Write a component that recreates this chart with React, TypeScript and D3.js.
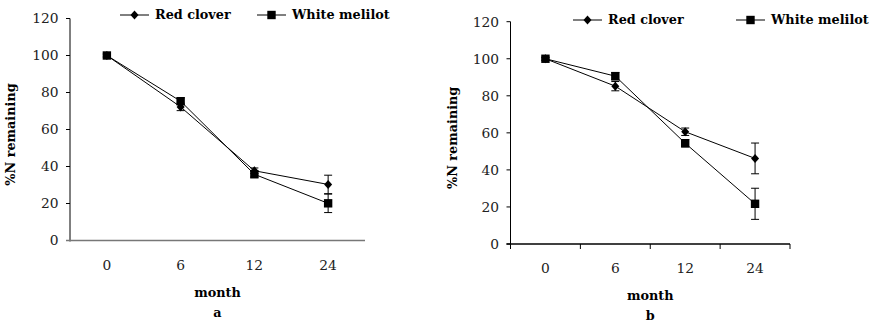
import React from "react";
import * as d3 from "d3";

const months = ["0", "6", "12", "24"];
const yTicks = [0, 20, 40, 60, 80, 100, 120];
const seriesNames = ["Red clover", "White melilot"];

// panel a
const redA = [100, 72.2, 37.7, 30.3];
const redErrA = [0.8, 2, 1.5, 5];
const whiteA = [100, 75.3, 35.8, 20.1];
const whiteErrA = [0.8, 1.8, 1.5, 5];

// panel b
const redB = [100, 85.2, 60.6, 46.2];
const redErrB = [0.8, 2.5, 2, 8.3];
const whiteB = [100, 90.6, 54.4, 21.7];
const whiteErrB = [0.8, 2, 2, 8.4];

const serif = "'DejaVu Serif', 'Liberation Serif', serif";

type PanelProps = {
  x0: number;
  x1: number;
  yTop: number;
  yBottom: number;
  red: number[];
  redErr: number[];
  white: number[];
  whiteErr: number[];
  letter: string;
  showTicks: boolean;
  axisColor: string;
  legend: number[];
  legendY: number;
  labelX: number;
};

function Panel(p: PanelProps) {
  const x = d3.scaleBand().domain(months).range([p.x0, p.x1]);
  const y = d3.scaleLinear().domain([0, 120]).range([p.yBottom, p.yTop]);
  const cx = (m: string) => (x(m) as number) + x.bandwidth() / 2;
  const line = d3
    .line<number>()
    .x((_, i) => cx(months[i]))
    .y((d) => y(d));

  const sym = (kind: string, px: number, py: number, key: string) =>
    kind === "diamond" ? (
      <path key={key} d={`M${px},${py - 4.5}L${px + 4},${py}L${px},${py + 4.5}L${px - 4},${py}Z`} fill="#000" />
    ) : (
      <rect key={key} x={px - 4.2} y={py - 4.2} width={8.4} height={8.4} fill="#000" />
    );

  const series = [
    { vals: p.red, err: p.redErr, kind: "diamond" },
    { vals: p.white, err: p.whiteErr, kind: "square" },
  ];

  return (
    <g>
      {/* y axis */}
      <line x1={p.x0} x2={p.x0} y1={p.yTop} y2={p.yBottom + 1} stroke="#000" strokeWidth={1} />
      {yTicks.map((t) => (
        <g key={t}>
          <line x1={p.x0 - 4} x2={p.x0} y1={y(t)} y2={y(t)} stroke="#000" />
          <text x={p.x0 - 11.5} y={y(t)} dy="0.36em" textAnchor="end" fontFamily={serif} fontSize={13.8} fill="#222">
            {t}
          </text>
        </g>
      ))}
      {/* x axis */}
      <line x1={p.x0 - 4} x2={p.x1} y1={p.yBottom} y2={p.yBottom} stroke={p.axisColor} strokeWidth={1.3} />
      {p.showTicks &&
        d3.range(months.length + 1).map((i) => {
          const tx = p.x0 + i * x.bandwidth();
          return <line key={i} x1={tx} x2={tx} y1={p.yBottom} y2={p.yBottom + 5} stroke="#000" />;
        })}
      {months.map((m) => (
        <text key={m} x={cx(m)} y={p.yBottom + 29} textAnchor="middle" fontFamily={serif} fontSize={13.8} fill="#222">
          {m}
        </text>
      ))}
      <text x={(p.x0 + p.x1) / 2} y={p.yBottom + 56} textAnchor="middle" fontFamily={serif} fontWeight="bold" fontSize={12.8}>
        month
      </text>
      <text x={(p.x0 + p.x1) / 2} y={p.yBottom + 76} textAnchor="middle" fontFamily={serif} fontWeight="bold" fontSize={12.8}>
        {p.letter}
      </text>
      <text
        transform={`translate(${p.labelX},${(p.yTop + p.yBottom) / 2 + 5}) rotate(-90)`}
        textAnchor="middle"
        fontFamily={serif}
        fontWeight="bold"
        fontSize={12.8}
      >
        %N remaining
      </text>

      {/* lines, error bars, markers */}
      {series.map((s, si) => (
        <g key={si}>
          <path d={line(s.vals) as string} fill="none" stroke="#000" strokeWidth={1} />
          {s.vals.map((v, i) => {
            const px = cx(months[i]);
            const hi = y(v + s.err[i]);
            const lo = y(v - s.err[i]);
            return (
              <g key={i}>
                <line x1={px} x2={px} y1={hi} y2={lo} stroke="#000" />
                <line x1={px - 4} x2={px + 4} y1={hi} y2={hi} stroke="#000" />
                <line x1={px - 4} x2={px + 4} y1={lo} y2={lo} stroke="#000" />
                {sym(s.kind, px, y(v), "m" + i)}
              </g>
            );
          })}
        </g>
      ))}

      {/* legend */}
      {seriesNames.map((n, i) => {
        const lx = p.legend[i];
        return (
          <g key={n}>
            <line x1={lx} x2={lx + 29} y1={p.legendY} y2={p.legendY} stroke="#000" />
            {sym(i === 0 ? "diamond" : "square", lx + 14.5, p.legendY, "l" + i)}
            <text x={lx + 35} y={p.legendY} dy="0.35em" fontFamily={serif} fontWeight="bold" fontSize={12.8}>
              {n}
            </text>
          </g>
        );
      })}
    </g>
  );
}

export default function App() {
  return (
    <svg width={872} height={323} style={{ position: "absolute", left: 0, top: 0, background: "#fff" }}>
      <Panel
        x0={70}
        x1={365}
        yTop={18.5}
        yBottom={240.5}
        red={redA}
        redErr={redErrA}
        white={whiteA}
        whiteErr={whiteErrA}
        letter="a"
        showTicks={false}
        axisColor="#777"
        legend={[120, 257]}
        legendY={15}
        labelX={15}
      />
      <Panel
        x0={510.5}
        x1={790}
        yTop={21.7}
        yBottom={244}
        red={redB}
        redErr={redErrB}
        white={whiteB}
        whiteErr={whiteErrB}
        letter="b"
        showTicks={true}
        axisColor="#000"
        legend={[573, 736]}
        legendY={20}
        labelX={457}
      />
    </svg>
  );
}
